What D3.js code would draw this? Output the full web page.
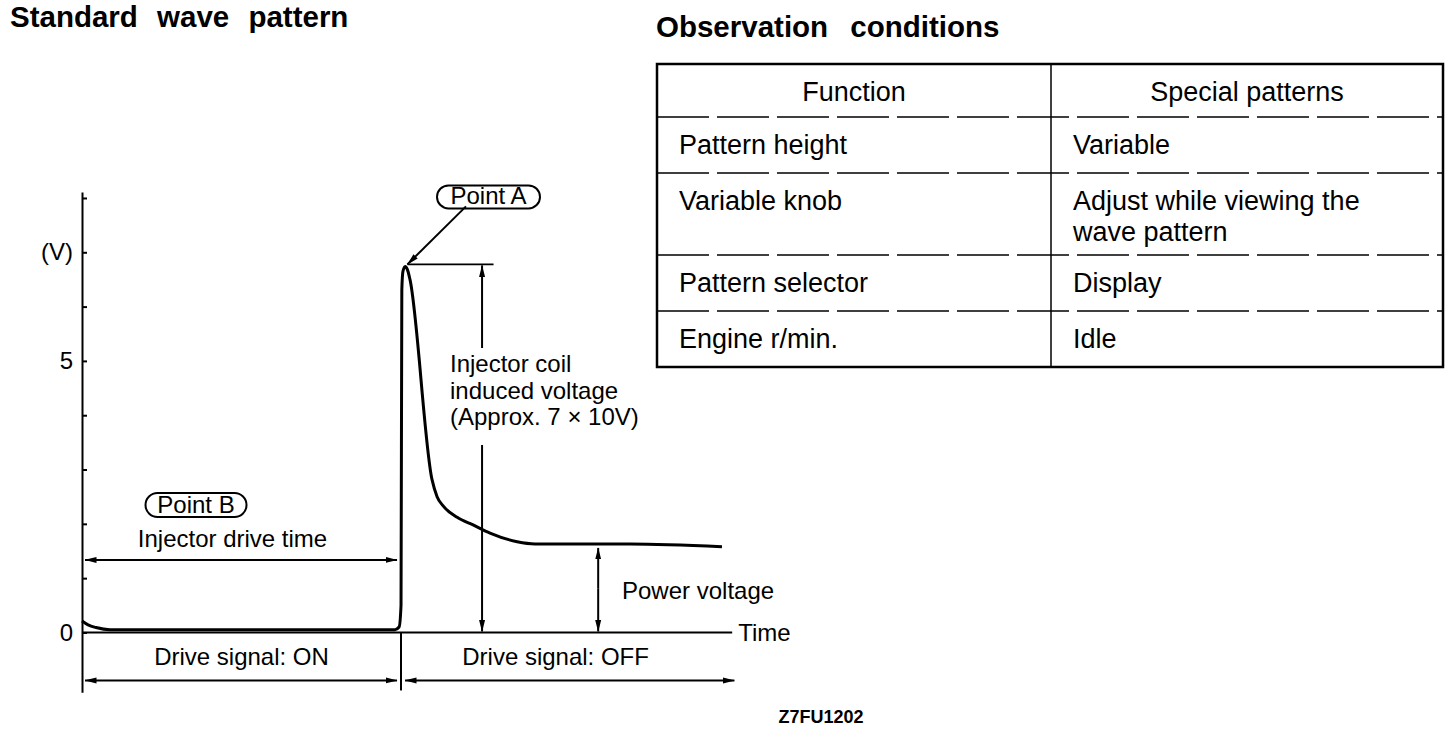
<!DOCTYPE html>
<html><head><meta charset="utf-8">
<script src="https://cdn.jsdelivr.net/npm/d3@7"></script>
<style>
html,body{margin:0;padding:0;background:#fff;}
svg{display:block;font-family:"Liberation Sans",Arial,Helvetica,sans-serif;}
text{fill:#000;}
</style></head><body>
<svg id="chart" width="1456" height="730"></svg>
<script>
// ---------- data ----------
const timeValues    = [0, 0.19, 0.44, 0.88, 9.81, 9.94, 10.0, 10.025, 10.06, 10.13, 10.2, 10.28, 10.97, 11.13, 11.32, 11.76, 12.26, 12.79, 13.64, 14.2, 17.18, 20.06];
const voltageValues = [0.21, 0.14, 0.09, 0.05, 0.05, 0.1, 0.5, 6.3, 6.65, 6.74, 6.68, 6.5, 2.82, 2.5, 2.33, 2.12, 1.98, 1.83, 1.67, 1.63, 1.63, 1.58];
const yTickValues = [0, 1, 2, 3, 4, 5, 6, 7, 8];
const yTickLabels = ["0", "", "", "", "", "5", "", "(V)", ""];
const driveOnSpan  = [0, 10];
const driveOffSpan = [10, 20.45];
const timeAxisEnd  = 20.38;
const peakVoltage  = 6.74;
const powerVoltage = 1.63;
const inducedArrowTime = 12.54;
const powerArrowTime   = 16.18;
const inducedLabelLines = ["Injector coil", "induced voltage", "(Approx. 7 \u00d7 10V)"];
const tableHeaders   = ["Function", "Special patterns"];
const tableFunctions = ["Pattern height", "Variable knob", "Pattern selector", "Engine r/min."];
const tableSettings  = [["Variable"], ["Adjust while viewing the", "wave pattern"], ["Display"], ["Idle"]];

// ---------- setup ----------
const svg = d3.select("#chart");
const defs = svg.append("defs");
defs.append("marker").attr("id", "arrow")
  .attr("viewBox", "0 0 12 8").attr("refX", 11.5).attr("refY", 4)
  .attr("markerWidth", 12).attr("markerHeight", 8)
  .attr("markerUnits", "userSpaceOnUse").attr("orient", "auto-start-reverse")
  .append("path").attr("d", "M0,1 L12,4 L0,7 Z").attr("fill", "#000");

const x = d3.scaleLinear().domain([0, 20.5]).range([82, 736]);
const y = d3.scaleLinear().domain([-1.1, 8.11]).range([692.2, 192]);

// titles
svg.append("text").attr("x", 10).attr("y", 27)
  .attr("font-size", 29.5).attr("font-weight", "bold").attr("word-spacing", 11)
  .text("Standard wave pattern");
svg.append("text").attr("x", 656).attr("y", 37)
  .attr("font-size", 29.5).attr("font-weight", "bold").attr("word-spacing", 14)
  .text("Observation conditions");

// ---------- y axis ----------
const yAxis = d3.axisLeft(y).tickValues(yTickValues)
  .tickSizeInner(-5).tickSizeOuter(0).tickPadding(9)
  .tickFormat((d, i) => yTickLabels[i]);
const gy = svg.append("g").attr("transform", `translate(${x(0)},0)`).call(yAxis);
gy.select(".domain").attr("stroke-width", 2);
gy.selectAll(".tick line").attr("stroke-width", 2);
gy.selectAll(".tick text").attr("font-size", 24).attr("font-family", "Liberation Sans, Arial, sans-serif").attr("fill", "#000");

// zero (time) line
svg.append("line").attr("x1", x(0)).attr("x2", x(timeAxisEnd))
  .attr("y1", y(0)).attr("y2", y(0)).attr("stroke", "#000").attr("stroke-width", 2);
svg.append("text").attr("x", x(timeAxisEnd) + 6).attr("y", y(0) + 8.5)
  .attr("font-size", 24).text("Time");

// waveform
const line = d3.line().x((d, i) => x(timeValues[i])).y(d => y(d)).curve(d3.curveMonotoneX);
svg.append("path").datum(voltageValues).attr("d", line)
  .attr("fill", "none").attr("stroke", "#000").attr("stroke-width", 3).attr("stroke-linejoin", "round");

// drive signal divider & arrows
const arrowLine = (x1, y1, x2, y2, both) => {
  const l = svg.append("line").attr("x1", x1).attr("y1", y1).attr("x2", x2).attr("y2", y2)
    .attr("stroke", "#000").attr("stroke-width", 2).attr("marker-end", "url(#arrow)");
  if (both) l.attr("marker-start", "url(#arrow)");
  return l;
};
svg.append("line").attr("x1", x(driveOnSpan[1])).attr("x2", x(driveOnSpan[1]))
  .attr("y1", y(0)).attr("y2", y(0) + 58).attr("stroke", "#000").attr("stroke-width", 2);
const driveY = y(0) + 48;
arrowLine(x(driveOnSpan[0]) + 3, driveY, x(driveOnSpan[1]) - 4, driveY, true);
arrowLine(x(driveOffSpan[0]) + 4, driveY, x(driveOffSpan[1]), driveY, true);
svg.append("text").attr("x", (x(driveOnSpan[0]) + x(driveOnSpan[1])) / 2).attr("y", y(0) + 32.5)
  .attr("text-anchor", "middle").attr("font-size", 24).text("Drive signal: ON");
svg.append("text").attr("x", (x(driveOffSpan[0]) + x(timeAxisEnd)) / 2 - 11).attr("y", y(0) + 32.5)
  .attr("text-anchor", "middle").attr("font-size", 24).text("Drive signal: OFF");

// injector drive time (Point B)
const driveTimeY = y(0) - 72.5;
arrowLine(x(driveOnSpan[0]) + 3, driveTimeY, x(driveOnSpan[1]) - 4, driveTimeY, true);
const midOn = (x(driveOnSpan[0]) + x(driveOnSpan[1])) / 2;
svg.append("text").attr("x", midOn - 9).attr("y", driveTimeY - 13)
  .attr("text-anchor", "middle").attr("font-size", 24).text("Injector drive time");
svg.append("rect").attr("x", midOn - 96).attr("y", driveTimeY - 67).attr("width", 101).attr("height", 24)
  .attr("rx", 12).attr("fill", "none").attr("stroke", "#000").attr("stroke-width", 2);
svg.append("text").attr("x", midOn - 45.5).attr("y", driveTimeY - 47)
  .attr("text-anchor", "middle").attr("font-size", 24).text("Point B");

// peak (Point A)
const peakY = y(peakVoltage) - 2;
svg.append("line").attr("x1", x(10.2)).attr("x2", x(12.9)).attr("y1", peakY).attr("y2", peakY)
  .attr("stroke", "#000").attr("stroke-width", 1.8);
svg.append("rect").attr("x", 437).attr("y", peakY - 79).attr("width", 103).attr("height", 23)
  .attr("rx", 11.5).attr("fill", "none").attr("stroke", "#000").attr("stroke-width", 2);
svg.append("text").attr("x", 488.5).attr("y", peakY - 60)
  .attr("text-anchor", "middle").attr("font-size", 24).text("Point A");
arrowLine(466, peakY - 58, x(10.2), peakY, false);

// induced voltage arrow and label
const ix = x(inducedArrowTime);
arrowLine(ix, 348, ix, peakY + 1, false);
arrowLine(ix, 445, ix, y(0) - 1, false);
const indText = svg.append("text").attr("x", 450).attr("y", 372).attr("font-size", 24);
indText.selectAll("tspan").data(inducedLabelLines).join("tspan")
  .attr("x", 450).attr("dy", (d, i) => i === 0 ? 0 : 26.5).text(d => d);

// power voltage arrow
const px = x(powerArrowTime);
arrowLine(px, (y(powerVoltage) + y(0)) / 2, px, y(powerVoltage) + 4, false);
arrowLine(px, (y(powerVoltage) + y(0)) / 2, px, y(0) - 1, false);
svg.append("text").attr("x", 622).attr("y", 599).attr("font-size", 24).text("Power voltage");

// figure code
svg.append("text").attr("x", 821).attr("y", 723).attr("text-anchor", "middle")
  .attr("font-size", 18).attr("font-weight", "bold").text("Z7FU1202");

// ---------- table ----------
const tX0 = 657, tX1 = 1051, tX2 = 1443, tY0 = 64;
const rowH = lines => 30 + 26 * lines;
const rows = [{left: [tableHeaders[0]], right: [tableHeaders[1]], header: true, h: 53}]
  .concat(tableFunctions.map((f, i) => ({left: [f], right: tableSettings[i], header: false, h: rowH(tableSettings[i].length)})));
let cy = tY0;
rows.forEach(r => { r.y = cy; cy += r.h; });
const tY1 = cy;
const tg = svg.append("g");
const cellText = (lines, xx, yy, anchor) => {
  lines.forEach((d, j) => {
    tg.append("text").attr("x", xx).attr("y", yy + j * 31)
      .attr("text-anchor", anchor).attr("font-size", 27).text(d);
  });
};
rows.forEach((r, i) => {
  if (i > 0) {
    tg.append("line").attr("x1", tX0).attr("x2", tX2).attr("y1", r.y).attr("y2", r.y)
      .attr("stroke", "#000").attr("stroke-width", 1.6).attr("stroke-dasharray", "52,8");
  }
  const base = r.y + 37;
  cellText(r.left, r.header ? (tX0 + tX1) / 2 : tX0 + 22, base, r.header ? "middle" : "start");
  cellText(r.right, r.header ? (tX1 + tX2) / 2 : tX1 + 22, base, r.header ? "middle" : "start");
});
tg.append("line").attr("x1", tX1).attr("x2", tX1).attr("y1", tY0).attr("y2", tY1)
  .attr("stroke", "#000").attr("stroke-width", 1.5);
tg.append("rect").attr("x", tX0).attr("y", tY0).attr("width", tX2 - tX0).attr("height", tY1 - tY0)
  .attr("fill", "none").attr("stroke", "#000").attr("stroke-width", 2.5);
</script>
</body></html>
